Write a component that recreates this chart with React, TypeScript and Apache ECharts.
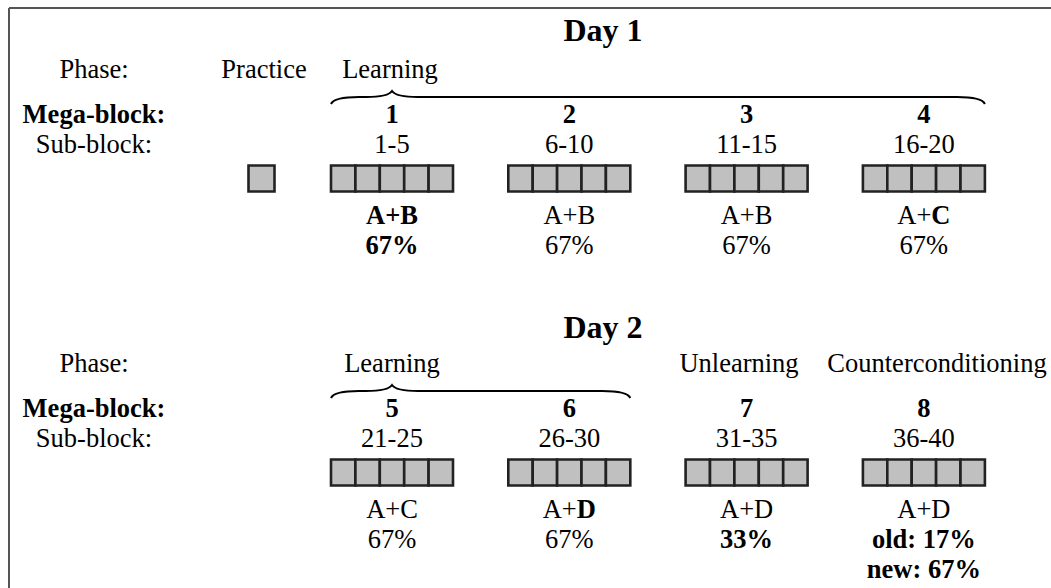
import React, { useEffect, useRef } from "react";
import * as echarts from "echarts";

// ---- content ----
const dayTitles = ["Day 1", "Day 2"];
const rowLabels = ["Phase:", "Mega-block:", "Sub-block:"];
const rowLabelBold = [false, true, false];
const phasesDay1 = ["Practice", "Learning"];
const phasesDay2 = ["Learning", "Unlearning", "Counterconditioning"];
const megaBlocks = ["1", "2", "3", "4", "5", "6", "7", "8"];
const subBlocks = ["1-5", "6-10", "11-15", "16-20", "21-25", "26-30", "31-35", "36-40"];
const cueOld = ["A+", "A+", "A+", "A+", "A+", "A+", "A+", "A+"];
const cueNew = ["B", "B", "B", "C", "C", "D", "D", "D"];
const cueBold = ["all", "none", "none", "new", "none", "new", "none", "none"];
const pctLines = [["67%"], ["67%"], ["67%"], ["67%"], ["67%"], ["67%"], ["33%"], ["old: 17%", "new: 67%"]];
const pctBold = [true, false, false, false, false, false, true, true];
const trialsPerBlock = 5;
const practiceTrials = 1;

// ---- layout ----
const FONT = "Liberation Serif";
const FS = 26.5;
const TITLE_FS = 32;
const DAY_GAP = 294;
const COL0 = 392;
const COL_STEP = 177.3;
const CELL_W = 24.4;
const CELL_H = 26;
const LABEL_X = 94;
const TITLE_X = 603;
const Y = { title: 30, phase: 68.5, mega: 113.5, sub: 143.5, box: 165.5, cue: 214.5, pct: 244.5, line: 30.5 };
const phaseX1 = [264, 390];
const phaseX2 = [392, 739, 937];
const PRACTICE_X = 248.5;
const braces = [
  { day: 0, from: 0, to: 3, tip: 0 },
  { day: 1, from: 0, to: 1, tip: 0 },
];
const BRACE_Y = 97;

function colX(i: number) {
  return COL0 + (i % 4) * COL_STEP;
}

function txt(p: number[], text: string, bold: boolean, size = FS, align = "center", rich?: any) {
  return {
    type: "text",
    x: p[0],
    y: p[1],
    style: {
      text,
      fontFamily: FONT,
      fontSize: size,
      fontWeight: bold ? "bold" : "normal",
      fill: "#000",
      align,
      verticalAlign: "middle",
      rich,
    },
  };
}

export default function App() {
  const ref = useRef<HTMLDivElement>(null);
  useEffect(() => {
    if (!ref.current) return;
    const chart = echarts.init(ref.current, undefined, { renderer: "svg" });

    const blockSeries = {
      type: "custom",
      coordinateSystem: "cartesian2d",
      clip: false,
      silent: true,
      data: megaBlocks.map((_, i) => [i, 0]),
      renderItem: (params: any, api: any) => {
        const i = params.dataIndex;
        const day = Math.floor(i / 4);
        const cx = colX(i);
        const off = day * DAY_GAP;
        const children: any[] = [];
        const w = CELL_W * trialsPerBlock;
        for (let k = 0; k < trialsPerBlock; k++) {
          const p = api.coord([cx - w / 2 + k * CELL_W, Y.box + off]);
          children.push({
            type: "rect",
            shape: { x: p[0], y: p[1], width: CELL_W, height: CELL_H },
            style: { fill: "#c0c0c0", stroke: "#222", lineWidth: 2.6 },
          });
        }
        children.push(txt(api.coord([cx, Y.mega + off]), megaBlocks[i], true));
        children.push(txt(api.coord([cx, Y.sub + off]), subBlocks[i], false));
        let cueText;
        if (cueBold[i] === "all") cueText = `{b|${cueOld[i]}${cueNew[i]}}`;
        else if (cueBold[i] === "new") cueText = `{n|${cueOld[i]}}{b|${cueNew[i]}}`;
        else cueText = `{n|${cueOld[i]}${cueNew[i]}}`;
        const rich = {
          n: { fontFamily: FONT, fontSize: FS, fontWeight: "normal", fill: "#000" },
          b: { fontFamily: FONT, fontSize: FS, fontWeight: "bold", fill: "#000" },
        };
        children.push(txt(api.coord([cx, Y.cue + off]), cueText, false, FS, "center", rich));
        pctLines[i].forEach((t, j) => {
          children.push(txt(api.coord([cx, Y.pct + off + j * Y.line]), t, pctBold[i]));
        });
        return { type: "group", children };
      },
    };

    const practiceSeries = {
      type: "custom",
      coordinateSystem: "cartesian2d",
      clip: false,
      silent: true,
      data: [[0, 0]],
      renderItem: (params: any, api: any) => {
        const children: any[] = [];
        for (let k = 0; k < practiceTrials; k++) {
          const p = api.coord([PRACTICE_X + k * 27, Y.box]);
          children.push({
            type: "rect",
            shape: { x: p[0], y: p[1], width: 26, height: CELL_H },
            style: { fill: "#c0c0c0", stroke: "#222", lineWidth: 2.6 },
          });
        }
        return { type: "group", children };
      },
    };

    const braceSeries = {
      type: "custom",
      coordinateSystem: "cartesian2d",
      clip: false,
      silent: true,
      data: braces.map((_, i) => [i, 0]),
      renderItem: (params: any, api: any) => {
        const b = braces[params.dataIndex];
        const off = b.day * DAY_GAP;
        const w = CELL_W * trialsPerBlock;
        const x0 = api.coord([colX(b.from) - w / 2, 0])[0];
        const x1 = api.coord([colX(b.to) + w / 2, 0])[0];
        const xt = api.coord([colX(b.tip), 0])[0];
        const y = api.coord([0, BRACE_Y + off])[1];
        const d =
          `M${x0} ${y + 7} Q${x0 + 3} ${y} ${x0 + 28} ${y} ` +
          `L${xt - 26} ${y} Q${xt - 4} ${y} ${xt} ${y - 6} ` +
          `Q${xt + 4} ${y} ${xt + 26} ${y} ` +
          `L${x1 - 28} ${y} Q${x1 - 3} ${y} ${x1} ${y + 7}`;
        return {
          type: "path",
          shape: { pathData: d },
          style: { fill: "none", stroke: "#000", lineWidth: 2 },
        };
      },
    };

    const textItems: { x: number; y: number; text: string; bold: boolean; size: number }[] = [];
    dayTitles.forEach((t, d) => {
      textItems.push({ x: TITLE_X, y: Y.title + d * DAY_GAP + (d ? 3 : 0), text: t, bold: true, size: TITLE_FS });
      const ys = [Y.phase, Y.mega, Y.sub];
      rowLabels.forEach((l, r) => {
        textItems.push({ x: LABEL_X, y: ys[r] + d * DAY_GAP, text: l, bold: rowLabelBold[r], size: FS });
      });
    });
    phasesDay1.forEach((t, i) => textItems.push({ x: phaseX1[i], y: Y.phase, text: t, bold: false, size: FS }));
    phasesDay2.forEach((t, i) =>
      textItems.push({ x: phaseX2[i], y: Y.phase + DAY_GAP, text: t, bold: false, size: FS })
    );

    const textSeries = {
      type: "custom",
      coordinateSystem: "cartesian2d",
      clip: false,
      silent: true,
      data: textItems.map((t) => [t.x, t.y]),
      renderItem: (params: any, api: any) => {
        const t = textItems[params.dataIndex];
        return txt(api.coord([t.x, t.y]), t.text, t.bold, t.size);
      },
    };

    chart.setOption({
      animation: false,
      grid: { left: 0, right: 0, top: 0, bottom: 0 },
      xAxis: { type: "value", min: 0, max: 1051, show: false },
      yAxis: { type: "value", min: 0, max: 588, inverse: true, show: false },
      graphic: [
        { type: "line", shape: { x1: 9, y1: 8, x2: 1051, y2: 8 }, style: { stroke: "#555", lineWidth: 2 } },
        { type: "line", shape: { x1: 9, y1: 8, x2: 9, y2: 588 }, style: { stroke: "#555", lineWidth: 2 } },
      ],
      series: [practiceSeries, blockSeries, braceSeries, textSeries],
    });
    return () => chart.dispose();
  }, []);
  return (
    <div
      ref={ref}
      style={{ position: "fixed", left: 0, top: 0, width: 1051, height: 588, background: "#fff" }}
    />
  );
}
